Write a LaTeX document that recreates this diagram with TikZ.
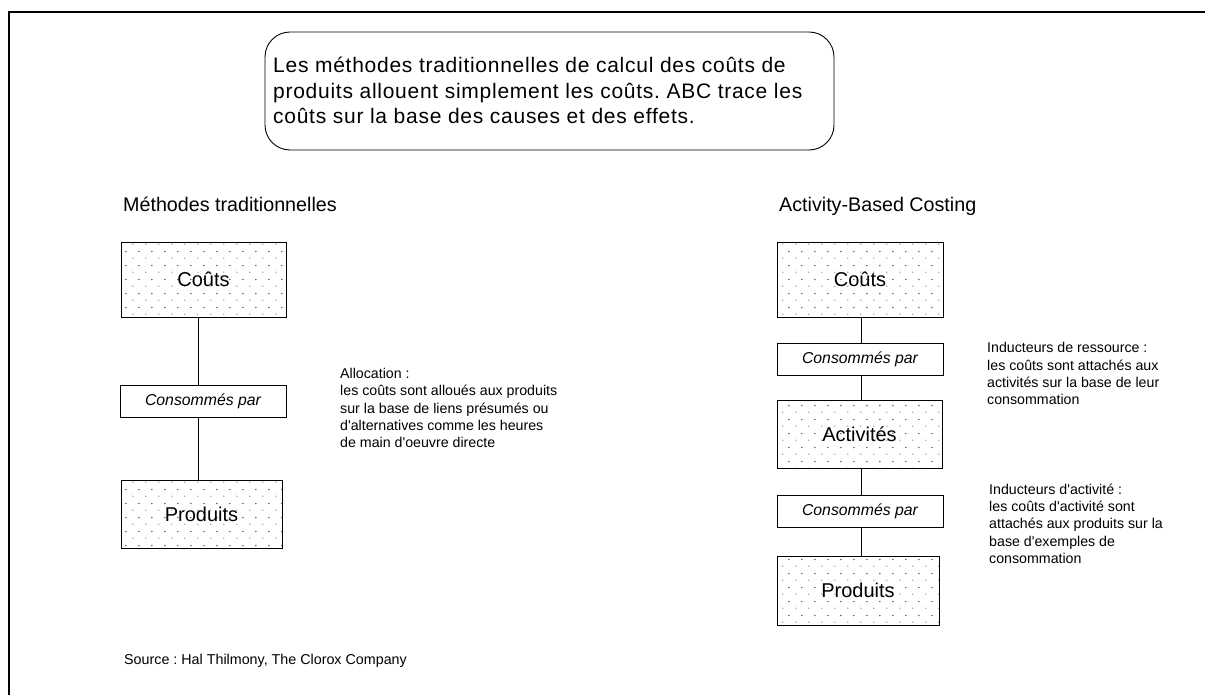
\documentclass[tikz,border=0pt]{standalone}
\usepackage{fontspec}
\setmainfont{Liberation Sans}[Ligatures=TeXOff]
\newfontfamily\introfont{Liberation Sans}[Ligatures=TeXOff, LetterSpace=3.5]
\usetikzlibrary{patterns}
\pgfdeclarepatternformonly{abcdots}{\pgfpoint{0pt}{0pt}}{\pgfpoint{13pt}{14pt}}{\pgfpoint{13pt}{14pt}}{
  \pgfpathcircle{\pgfpoint{3pt}{3pt}}{0.6pt}
  \pgfpathcircle{\pgfpoint{9.5pt}{10pt}}{0.85pt}
  \pgfusepath{fill}
}
\definecolor{dotgray}{RGB}{70,70,70}
\tikzset{
  dotbox/.style={draw=black, line width=0.9pt, pattern=abcdots, pattern color=dotgray,
    minimum width=#1, inner sep=0pt, font=\fontsize{20}{23}\selectfont},
  consbox/.style={draw=black, line width=0.9pt, fill=white, minimum width=166pt, minimum height=32pt,
    inner sep=0pt, font=\fontsize{15.8}{18}\selectfont\itshape},
  link/.style={line width=1pt},
  note/.style={anchor=north west, align=left, inner sep=0pt, font=\fontsize{14.2}{17.3}\selectfont},
  heading/.style={anchor=base west, inner sep=0pt, font=\fontsize{19.7}{23}\selectfont},
}
\begin{document}
\frenchspacing
\begin{tikzpicture}[x=1pt, y=-1pt]
\useasboundingbox (0,0) rectangle (1205,695);
% frame
\draw[line width=2.5pt] (9,695) -- (9,12) -- (1206,12);
% header box
\node[draw, line width=0.9pt, rounded corners=25pt, minimum width=569pt, minimum height=118pt, inner sep=0pt] (intro) at (549.5,91) {};
\node[anchor=north west, align=left, inner sep=0pt, font=\fontsize{21}{25.5}\introfont] (introtext) at (273,57)
  {Les méthodes traditionnelles de calcul des coûts de\\produits allouent simplement les coûts. ABC trace les\\coûts sur la base des causes et des effets.};
% headings
\node[heading] (h1) at (123,212) {Méthodes traditionnelles};
\node[heading] (h2) at (779,212) {Activity-Based Costing};
% left column
\node[dotbox=165pt, minimum height=75pt] (lcouts) at (203.5,279.5) {Coûts};
\node[consbox] (lcons) at (203,401) {Consommés par};
\node[dotbox=161pt, minimum height=68pt] (lprod) at (201.5,514.5) {Produits};
\draw[link] ([xshift=-5pt]lcouts.south) -- ([xshift=-4.5pt]lcons.north);
\draw[link] ([xshift=-4.5pt]lcons.south) -- ([xshift=-3pt]lprod.north);
\node[note] (alloc) at (340,368)
  {Allocation :\\les coûts sont alloués aux produits\\sur la base de liens présumés ou\\d'alternatives comme les heures\\de main d'oeuvre directe};
% right column
\node[dotbox=166pt, minimum height=75pt] (rcouts) at (860,279.5) {Coûts};
\node[consbox] (rcons1) at (860,359) {Consommés par};
\node[dotbox=165pt, minimum height=68pt] (ract) at (859.5,434) {Activités};
\node[consbox] (rcons2) at (860,511) {Consommés par};
\node[dotbox=162pt, minimum height=69pt] (rprod) at (858,590.5) {Produits};
\draw[link] ([xshift=1.5pt]rcouts.south) -- ([xshift=1.5pt]rcons1.north);
\draw[link] ([xshift=1.5pt]rcons1.south) -- ([xshift=2pt]ract.north);
\draw[link] ([xshift=2pt]ract.south) -- ([xshift=1.5pt]rcons2.north);
\draw[link] ([xshift=1.5pt]rcons2.south) -- ([xshift=3.5pt]rprod.north);
\node[note] (ind1) at (987,342.5)
  {Inducteurs de ressource :\\les coûts sont attachés aux\\activités sur la base de leur\\consommation};
\node[note] (ind2) at (989,483.5)
  {Inducteurs d'activité :\\les coûts d'activité sont\\attachés aux produits sur la\\base d'exemples de\\consommation};
% source
\node[anchor=base west, inner sep=0pt, font=\fontsize{14.3}{17}\selectfont] (src) at (124,664) {Source : Hal Thilmony, The Clorox Company};
\end{tikzpicture}
\end{document}
